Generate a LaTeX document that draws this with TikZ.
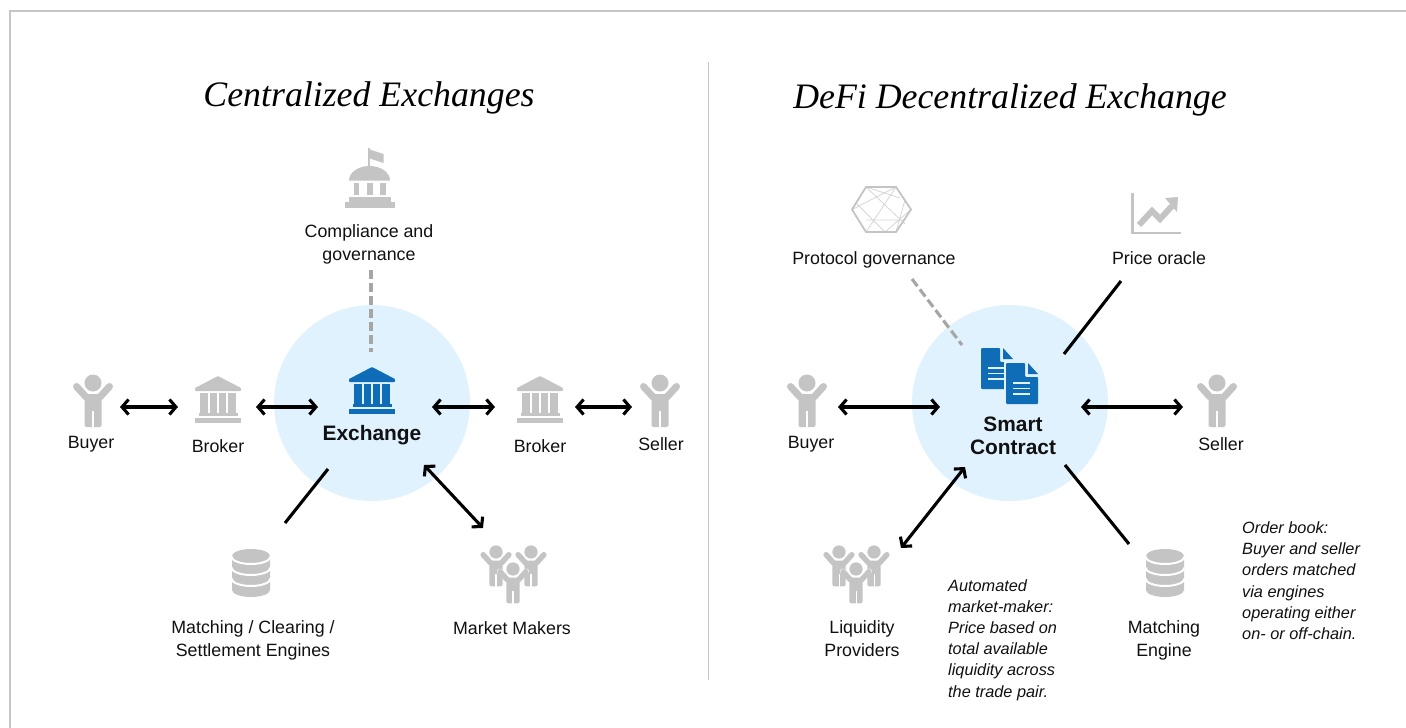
\documentclass[tikz,border=0pt]{standalone}
\usepackage{fontspec}
\setmainfont{Liberation Sans}
\newfontfamily\titlefont{Liberation Serif}
\usetikzlibrary{arrows.meta}
\definecolor{icongray}{HTML}{C4C4C4}
\definecolor{iconblue}{HTML}{0F6CB6}
\definecolor{bubble}{HTML}{E0F2FD}
\definecolor{framegray}{HTML}{C6C6C6}
\definecolor{inkblack}{HTML}{111111}
\tikzset{
  twoway/.style={draw=black,line width=3.1pt,{Straight Barb[length=6.5pt,width=15pt,line width=3.1pt]}-{Straight Barb[length=6.5pt,width=15pt,line width=3.1pt]}},
  plainlink/.style={draw=black,line width=3.1pt},
  dashlink/.style={draw=gray!70,line width=3.1pt,dash pattern=on 9pt off 4pt},
  lab/.style={font=\fontsize{17.8}{23}\selectfont,text=inkblack,align=center,inner sep=0pt},
  boldlab/.style={font=\fontsize{20.9}{22.5}\selectfont\bfseries,text=inkblack,align=center,inner sep=0pt},
  note/.style={font=\fontsize{16.3}{21.2}\selectfont\itshape,text=inkblack,align=left,inner sep=0pt,anchor=north west},
  headline/.style={font=\fontsize{35.8}{40}\selectfont\titlefont\itshape,text=black,inner sep=0pt},
  bubblecircle/.style={circle,fill=bubble,minimum size=196pt,inner sep=0pt},
}
\newcommand{\personicon}[4]{%
\begin{scope}[shift={(#1,#2)},scale=#3]
 \ifnum#4>0
 \draw[white,line width=#3*7pt,line cap=round,line join=round] (-17,3)--(-8,12)--(8,12)--(17,3);
 \fill[white] (-11,9) rectangle (11,46);
 \fi
 \fill[icongray] (0,0) circle (8.5);
 \draw[icongray,line width=#3*7pt,line cap=round] (-16.5,3.5)--(-7,14) (16.5,3.5)--(7,14);
 \fill[icongray,rounded corners=2pt] (-8.5,11) rectangle (8.5,44);
 \draw[white,line width=#3*1.3pt] (0,28)--(0,44.5);
\end{scope}}
\newcommand{\bankicon}[3]{%
\begin{scope}[shift={(#1,#2)}]
 \fill[#3,rounded corners=0.8pt] (0,0)--(23,12)--(23,15)--(-23,15)--(-23,12)--cycle;
 \foreach \cx in {-14,-4.5,4.5,14} \fill[#3] (\cx-3.7,17) rectangle (\cx+3.7,37);
 \fill[#3] (-19.5,37) rectangle (19.5,40);
 \fill[#3] (-23,42) rectangle (23,47);
\end{scope}}
% arcs: the y axis points down here, so angle 90 is the lower side of an ellipse
\newcommand{\dbicon}[2]{%
\begin{scope}[shift={(#1,#2)}]
 \fill[icongray] (-19,7) -- (-19,41) arc[start angle=180,end angle=0,x radius=19,y radius=7] -- (19,7) arc[start angle=0,end angle=-180,x radius=19,y radius=7] -- cycle;
 \draw[white,line width=2pt] (-19.5,7.5) arc[start angle=180,end angle=0,x radius=19.5,y radius=7.5];
 \draw[white,line width=2pt] (-19.5,18.5) arc[start angle=180,end angle=0,x radius=19.5,y radius=7.5];
 \draw[white,line width=2pt] (-19.5,29.5) arc[start angle=180,end angle=0,x radius=19.5,y radius=7.5];
\end{scope}}
\newcommand{\trioicon}[1]{%
 \personicon{#1-17}{552}{0.78}{0}
 \personicon{#1+18}{552}{0.78}{0}
 \personicon{#1}{569}{0.78}{1}}
\newcommand{\docicon}[2]{%
\begin{scope}[shift={(#1,#2)}]
 \fill[iconblue,rounded corners=1pt] (0,0)--(19,0)--(19,14)--(32,14)--(32,41)--(0,41)--cycle;
 \fill[iconblue] (22,0)--(32,11)--(22,11)--cycle;
 \foreach \ly in {20,25.5,31} \fill[bubble] (7,\ly-0.9) rectangle (24,\ly+0.9);
\end{scope}}
\begin{document}
\begin{tikzpicture}[x=1pt,y=-1pt]
\useasboundingbox (0,0) rectangle (1406,728);
\fill[white] (0,0) rectangle (1406,728);
\draw[framegray,line width=2pt] (10,728)--(10,11)--(1406,11);
\draw[black!22,line width=1pt] (708.5,62)--(708.5,680);
\node[headline] (titleL) at (369,98) {Centralized Exchanges};
\node[headline] (titleR) at (1010,100) {DeFi Decentralized Exchange};
\node[bubblecircle] (hubL) at (372,403) {};
\node[bubblecircle] (hubR) at (1010,403) {};
\begin{scope}
 \fill[icongray] (367.5,148) rectangle (369.5,167);
 \fill[icongray] (368.5,149)--(383.5,154)--(383.5,163)--(368.5,158)--cycle;
 \fill[icongray] (349,180.5) arc[start angle=180,end angle=360,x radius=20.5,y radius=14.5] -- cycle;
 \foreach \cx in {356.5,370,383} \fill[icongray] (\cx-2.8,182.5) rectangle (\cx+2.8,195);
 \fill[icongray] (349,197) rectangle (391,202);
 \fill[icongray] (345,202) rectangle (395,208);
\end{scope}
\personicon{93}{383}{1}{0}
\bankicon{218}{376}{icongray}
\bankicon{372}{367}{iconblue}
\bankicon{540}{376}{icongray}
\personicon{660}{383}{1}{0}
\dbicon{251}{549}
\trioicon{513}
\node[lab] (compl) at (369,244) {Compliance and\\governance};
\node[lab] (buyerL) at (91,444.5) {Buyer};
\node[lab] (brokerL) at (218,446) {Broker};
\node[boldlab] (exch) at (372,435) {Exchange};
\node[lab] (brokerR) at (540,446) {Broker};
\node[lab] (sellerL) at (661,444.5) {Seller};
\node[lab] (engines) at (253,640) {Matching / Clearing /\\Settlement Engines};
\node[lab] (mm) at (512,628) {Market Makers};
\coordinate (a1) at (120,407); \coordinate (a2) at (178,407);
\coordinate (b1) at (256,407); \coordinate (b2) at (318,407);
\coordinate (c1) at (432,407); \coordinate (c2) at (495,407);
\coordinate (d1) at (575,407); \coordinate (d2) at (632,407);
\coordinate (e1) at (424,465); \coordinate (e2) at (483,528);
\coordinate (f1) at (328,469); \coordinate (f2) at (285,523);
\coordinate (g1) at (371,270); \coordinate (g2) at (371,352);
\draw[twoway] (a1)--(a2);
\draw[twoway] (b1)--(b2);
\draw[twoway] (c1)--(c2);
\draw[twoway] (d1)--(d2);
\draw[twoway] (e1)--(e2);
\draw[plainlink] (f1)--(f2);
\draw[dashlink] (g1)--(g2);
\begin{scope}
 \draw[icongray!70,line width=0.8pt] (896,187)--(866,232) (866,187)--(905,224) (896,187)--(852,209.5)
   (856,203)--(885,232) (866,220)--(905,220) (911,209.5)--(885,232) (866,187)--(900,198) (905,200)--(896,232);
 \draw[icongray,line width=1.8pt,line join=round] (866,187)--(896,187)--(911,209.5)--(896,232)--(866,232)--(852,209.5)--cycle;
 \fill[icongray] (1131,193) rectangle (1134,233);
 \fill[icongray] (1131,231.5) rectangle (1181,234);
 \draw[icongray,line width=6pt] (1139,225)--(1152,211)--(1160,219)--(1172,206);
 \fill[icongray] (1165,198)--(1178,197)--(1177,212)--cycle;
\end{scope}
\personicon{807}{383}{1}{0}
\personicon{1217}{383}{1}{0}
\dbicon{1165}{549}
\trioicon{856}
\docicon{981}{348}
\fill[bubble,rounded corners=1pt] (1004,361) rectangle (1040,406);
\docicon{1006}{363}
\node[lab] (protocol) at (874,259.5) {Protocol governance};
\node[lab] (oracle) at (1159,258) {Price oracle};
\node[lab] (buyerR) at (811,444.5) {Buyer};
\node[boldlab] (smart) at (1013,436) {Smart\\Contract};
\node[lab] (sellerR) at (1221,444.5) {Seller};
\node[lab] (liq) at (862,639) {Liquidity\\Providers};
\node[lab] (matching) at (1164,640) {Matching\\Engine};
\node[note] (amm) at (948,579) {Automated\\market-maker:\\Price based on\\total available\\liquidity across\\the trade pair.};
\node[note] (ob) at (1242,521.5) {Order book:\\Buyer and seller\\orders matched\\via engines\\operating either\\on- or off-chain.};
\coordinate (h1) at (838,407); \coordinate (h2) at (940,407);
\coordinate (i1) at (1081,407); \coordinate (i2) at (1183,407);
\coordinate (j1) at (965,467); \coordinate (j2) at (901,548);
\coordinate (k1) at (1065,465); \coordinate (k2) at (1129,544);
\coordinate (l1) at (1121,281); \coordinate (l2) at (1064,354);
\coordinate (m1) at (912,279); \coordinate (m2) at (962,345);
\draw[twoway] (h1)--(h2);
\draw[twoway] (i1)--(i2);
\draw[twoway] (j1)--(j2);
\draw[plainlink] (k1)--(k2);
\draw[plainlink] (l1)--(l2);
\draw[dashlink] (m1)--(m2);
\end{tikzpicture}
\end{document}
